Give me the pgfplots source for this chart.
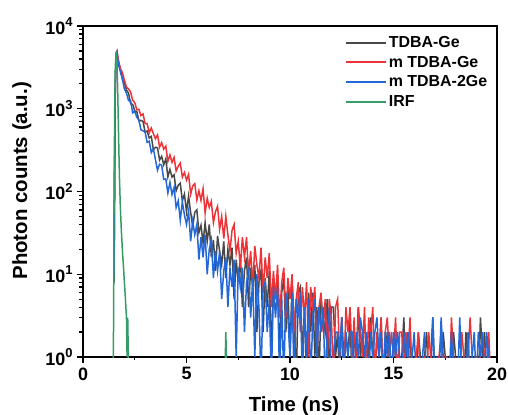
\documentclass[border=0pt]{standalone}
\usepackage{fontspec}
\setmainfont{Liberation Sans}
\usepackage{pgfplots}
\pgfplotsset{compat=1.18}
\definecolor{cblack}{RGB}{72,72,72}
\definecolor{cred}{RGB}{236,52,56}
\definecolor{cblue}{RGB}{36,104,216}
\definecolor{cgreen}{RGB}{52,156,100}
\newcommand\pw[1]{10\raisebox{0.42em}{\fontsize{13}{13}\selectfont #1}}
\begin{document}
\begin{tikzpicture}
\useasboundingbox (-83bp,-58bp) rectangle (425bp,357bp);
\begin{axis}[
  scale only axis, width=414bp, height=331bp,
  at={(0,0)}, anchor=south west,
  xmin=0, xmax=20, ymode=log, ymin=1, ymax=10000,
  axis line style={line width=1.6bp},
  xtick={0,5,10,15,20}, xticklabels={0,5,10,15,20},
  minor xtick={2.5,7.5,12.5,17.5},
  ytick={1,10,100,1000,10000},
  yticklabels={\pw{0},\pw{1},\pw{2},\pw{3},\pw{4}},
  xtick pos=bottom, ytick pos=left,
  tick align=outside,
  major tick length=6bp, minor tick length=3.5bp,
  every tick/.style={line width=1.3bp, black},
  ticklabel style={font=\bfseries\fontsize{18}{20}\selectfont},
  xticklabel style={yshift=-1bp},
  yticklabel style={xshift=-1bp},
  xlabel={Time (ns)}, ylabel={Photon counts (a.u.)},
  label style={font=\bfseries\fontsize{20.5}{23}\selectfont},
  xlabel style={at={(axis description cs:0.5,0)}, anchor=base, yshift=-54bp, xshift=4bp},
  ylabel style={at={(axis description cs:-0.135,0.532)}, anchor=base},
  legend style={at={(0.632,0.975)}, anchor=north west, draw=none, fill=none,
    font=\bfseries\fontsize{16}{19}\selectfont, inner sep=0pt, row sep=3bp,
    nodes={inner sep=2bp}},
  legend cell align=left,
  legend image code/.code={\draw[#1,line width=2bp] (0bp,0bp) -- (40bp,0bp);},
  every axis plot/.append style={line width=1.5bp},
  clip=true,
]
% TDBA-Ge
\addplot[cblack] coordinates {
(1.50,8) (1.55,1500) (1.60,4600) (1.64,4900) (1.7,3731) (1.8,3098) (1.9,2291) (2.0,2065)
(2.1,1687) (2.2,1548) (2.3,1152) (2.4,1127) (2.5,940) (2.6,926) (2.7,713) (2.8,723) (2.9,702)
(3.0,522) (3.1,538) (3.2,443) (3.3,463) (3.4,319) (3.5,342) (3.6,337) (3.7,240) (3.8,266)
(3.9,210) (4.0,248) (4.1,150) (4.2,185) (4.3,149) (4.4,159) (4.5,102) (4.6,119) (4.7,126)
(4.8,77) (4.9,93) (5.0,57) (5.1,88) (5.2,56) (5.3,38) (5.4,56) (5.5,60) (5.6,32) (5.7,39)
(5.8,24) (5.9,42) (6.0,25) (6.1,40) (6.2,16) (6.3,26) (6.4,11) (6.5,29) (6.6,19) (6.7,13)
(6.8,25) (6.9,9) (7.0,20) (7.1,13) (7.2,21) (7.3,5) (7.4,15) (7.5,8) (7.6,17) (7.7,4)
(7.8,11) (7.9,16) (8.0,4) (8.1,12) (8.2,7) (8.3,13) (8.4,2) (8.5,8) (8.6,11) (8.7,2) (8.8,9)
(8.9,4) (9.0,11) (9.1,1) (9.2,9) (9.3,5) (9.4,9) (9.5,1) (9.6,6) (9.7,9) (9.8,2) (9.9,7)
(10.0,1) (10.1,8) (10.2,3) (10.3,0.5) (10.4,6) (10.5,7) (10.6,1) (10.7,4) (10.8,0.5) (10.9,6)
(11.0,2) (11.1,6) (11.2,1) (11.3,4) (11.4,0.5) (11.5,5) (11.6,3) (11.7,2) (11.8,5) (11.9,0.5)
(12.0,4) (12.1,4) (12.2,1) (12.3,2) (12.4,0.5) (12.5,3) (12.6,1) (12.7,2) (12.8,1) (12.9,3)
(13.0,0.5) (13.1,2) (13.2,1) (13.3,4) (13.4,1) (13.5,2) (13.6,0.5) (13.7,2) (13.8,1) (13.9,3)
(14.0,1) (14.1,0.5) (14.2,2) (14.3,1) (14.4,3) (14.5,0.5) (14.6,1) (14.7,2) (14.8,1) (14.9,0.5)
(15.0,1) (15.1,2) (15.2,0.5) (15.3,1) (15.4,1) (15.5,3) (15.6,0.5) (15.7,1) (15.8,2) (15.9,0.5)
(16.0,1) (16.1,0.5) (16.2,2) (16.3,1) (16.4,0.5) (16.5,1) (16.6,2) (16.7,0.5) (16.8,1) (16.9,3)
(17.0,0.5) (17.1,1) (17.2,1) (17.3,0.5) (17.4,2) (17.5,1) (17.6,0.5) (17.7,1) (17.8,0.5) (17.9,2)
(18.0,1) (18.1,0.5) (18.2,1) (18.3,1) (18.4,0.5) (18.5,2) (18.6,0.5) (18.7,1) (18.8,0.5) (18.9,1)
(19.0,1) (19.1,0.5) (19.2,3) (19.3,1) (19.4,2) (19.5,0.5) (19.6,1) (19.7,0.5)
};
\addlegendentry{TDBA-Ge}
% mTDBA-Ge
\addplot[cred] coordinates {
(1.50,12) (1.56,1800) (1.60,4700) (1.64,4900) (1.7,4061) (1.8,3052) (1.9,2753) (2.0,2217)
(2.1,1823) (2.2,1740) (2.3,1597) (2.4,1268) (2.5,1186) (2.6,972) (2.7,984) (2.8,827) (2.9,865)
(3.0,663) (3.1,661) (3.2,512) (3.3,585) (3.4,500) (3.5,433) (3.6,483) (3.7,344) (3.8,390)
(3.9,325) (4.0,354) (4.1,231) (4.2,276) (4.3,225) (4.4,258) (4.5,177) (4.6,202) (4.7,221)
(4.8,149) (4.9,169) (5.0,137) (5.1,161) (5.2,93) (5.3,117) (5.4,124) (5.5,79) (5.6,102)
(5.7,78) (5.8,108) (5.9,55) (6.0,83) (6.1,64) (6.2,76) (6.3,42) (6.4,57) (6.5,66) (6.6,35)
(6.7,50) (6.8,27) (6.9,50) (7.0,30) (7.1,19) (7.2,34) (7.3,40) (7.4,18) (7.5,25) (7.6,12)
(7.7,28) (7.8,16) (7.9,28) (8.0,10) (8.1,19) (8.2,7) (8.3,22) (8.4,13) (8.5,9) (8.6,21)
(8.7,6) (8.8,16) (8.9,9) (9.0,18) (9.1,4) (9.2,11) (9.3,5) (9.4,13) (9.5,3) (9.6,8) (9.7,12)
(9.8,3) (9.9,9) (10.0,5) (10.1,10) (10.2,2) (10.3,5) (10.4,8) (10.5,2) (10.6,7) (10.7,3)
(10.8,8) (10.9,1) (11.0,7) (11.1,4) (11.2,7) (11.3,1) (11.4,4) (11.5,6) (11.6,2) (11.7,5)
(11.8,1) (11.9,5) (12.0,3) (12.1,0.5) (12.2,4) (12.3,5) (12.4,1) (12.5,3) (12.6,0.5) (12.7,4)
(12.8,2) (12.9,4) (13.0,1) (13.1,3) (13.2,0.5) (13.3,4) (13.4,2) (13.5,1) (13.6,4) (13.7,0.5)
(13.8,3) (13.9,2) (14.0,4) (14.1,0.5) (14.2,2) (14.3,1) (14.4,3) (14.5,0.5) (14.6,2) (14.7,3)
(14.8,1) (14.9,2) (15.0,1) (15.1,3) (15.2,0.5) (15.3,2) (15.4,2) (15.5,0.5) (15.6,2) (15.7,1)
(15.8,3) (15.9,0.5) (16.0,0.5) (16.1,1) (16.2,2) (16.3,0.5) (16.4,1) (16.5,1) (16.6,0.5) (16.7,2)
(16.8,1) (16.9,0.5) (17.0,1) (17.1,0.5) (17.2,1) (17.3,2) (17.4,0.5) (17.5,1) (17.6,1) (17.7,0.5)
(17.8,3) (17.9,1) (18.0,0.5) (18.1,1) (18.2,0.5) (18.3,2) (18.4,1) (18.5,0.5) (18.6,1) (18.7,3)
(18.8,1) (18.9,0.5) (19.0,1) (19.1,0.5) (19.2,1) (19.3,2) (19.4,1) (19.5,0.5) (19.6,2) (19.7,0.5)
};
\addlegendentry{m TDBA-Ge}
% mTDBA-2Ge
\addplot[cblue] coordinates {
(1.50,10) (1.55,1300) (1.60,4400) (1.65,4800) (1.7,3549) (1.8,2828) (1.9,2316) (2.0,1731)
(2.1,1547) (2.2,1256) (2.3,1253) (2.4,893) (2.5,933) (2.6,790) (2.7,731) (2.8,556) (2.9,540)
(3.0,524) (3.1,392) (3.2,405) (3.3,296) (3.4,329) (3.5,243) (3.6,181) (3.7,214) (3.8,208)
(3.9,140) (4.0,142) (4.1,96) (4.2,129) (4.3,92) (4.4,112) (4.5,64) (4.6,77) (4.7,45)
(4.8,75) (4.9,52) (5.0,40) (5.1,58) (5.2,25) (5.3,44) (5.4,30) (5.5,40) (5.6,15) (5.7,28)
(5.8,16) (5.9,30) (6.0,10) (6.1,20) (6.2,26) (6.3,9) (6.4,19) (6.5,11) (6.6,19) (6.7,5)
(6.8,11) (6.9,16) (7.0,4) (7.1,12) (7.2,7) (7.3,15) (7.4,1) (7.5,12) (7.6,7) (7.7,12)
(7.8,2) (7.9,8) (8.0,11) (8.1,3) (8.2,9) (8.3,1) (8.4,10) (8.5,4) (8.6,0.5) (8.7,7)
(8.8,8) (8.9,2) (9.0,5) (9.1,0.5) (9.2,7) (9.3,3) (9.4,7) (9.5,0.5) (9.6,5) (9.7,0.5)
(9.8,6) (9.9,3) (10.0,1) (10.1,6) (10.2,0.5) (10.3,5) (10.4,3) (10.5,6) (10.6,0.5) (10.7,4)
(10.8,1) (10.9,5) (11.0,0.5) (11.1,3) (11.2,5) (11.3,1) (11.4,4) (11.5,2) (11.6,4) (11.7,0.5)
(11.8,2) (11.9,4) (12.0,0.5) (12.1,1) (12.2,2) (12.3,2) (12.4,1) (12.5,3) (12.6,0.5) (12.7,2)
(12.8,1) (12.9,2) (13.0,2) (13.1,0.5) (13.2,2) (13.3,1) (13.4,3) (13.5,2) (13.6,1) (13.7,2)
(13.8,0.5) (13.9,2) (14.0,1) (14.1,2) (14.2,3) (14.3,1) (14.4,2) (14.5,0.5) (14.6,2) (14.7,1)
(14.8,2) (14.9,0.5) (15.0,2) (15.1,1) (15.2,2) (15.3,1) (15.4,0.5) (15.5,2) (15.6,1) (15.7,2)
(15.8,0.5) (15.9,1) (16.0,2) (16.1,0.5) (16.2,1) (16.3,0.5) (16.4,1) (16.5,2) (16.6,0.5) (16.7,1)
(16.8,0.5) (16.9,3) (17.0,0.5) (17.1,1) (17.2,0.5) (17.3,3) (17.4,1) (17.5,0.5) (17.6,1) (17.7,0.5)
(17.8,2) (17.9,0.5) (18.0,1) (18.1,0.5) (18.2,3) (18.3,0.5) (18.4,1) (18.5,0.5) (18.6,2) (18.7,0.5)
(18.8,1) (18.9,2) (19.0,0.5) (19.1,2) (19.2,1) (19.3,2) (19.4,0.5) (19.5,2) (19.6,1) (19.7,0.5)
};
\addlegendentry{m TDBA-2Ge}
% IRF
\addplot[cgreen] coordinates {
(1.35,0.5) (1.45,0.5) (1.48,3) (1.50,80) (1.53,900) (1.56,3200) (1.60,4900) (1.64,3800)
(1.68,1500) (1.72,450) (1.76,150) (1.80,70) (1.85,35) (1.90,20) (1.95,13) (2.00,8) (2.05,5)
(2.10,3) (2.13,1) (2.16,3) (2.19,1) (2.22,0.5) (6.85,0.5) (6.90,2) (6.95,0.5)
};
\addlegendentry{IRF}
\end{axis}
\end{tikzpicture}
\end{document}
